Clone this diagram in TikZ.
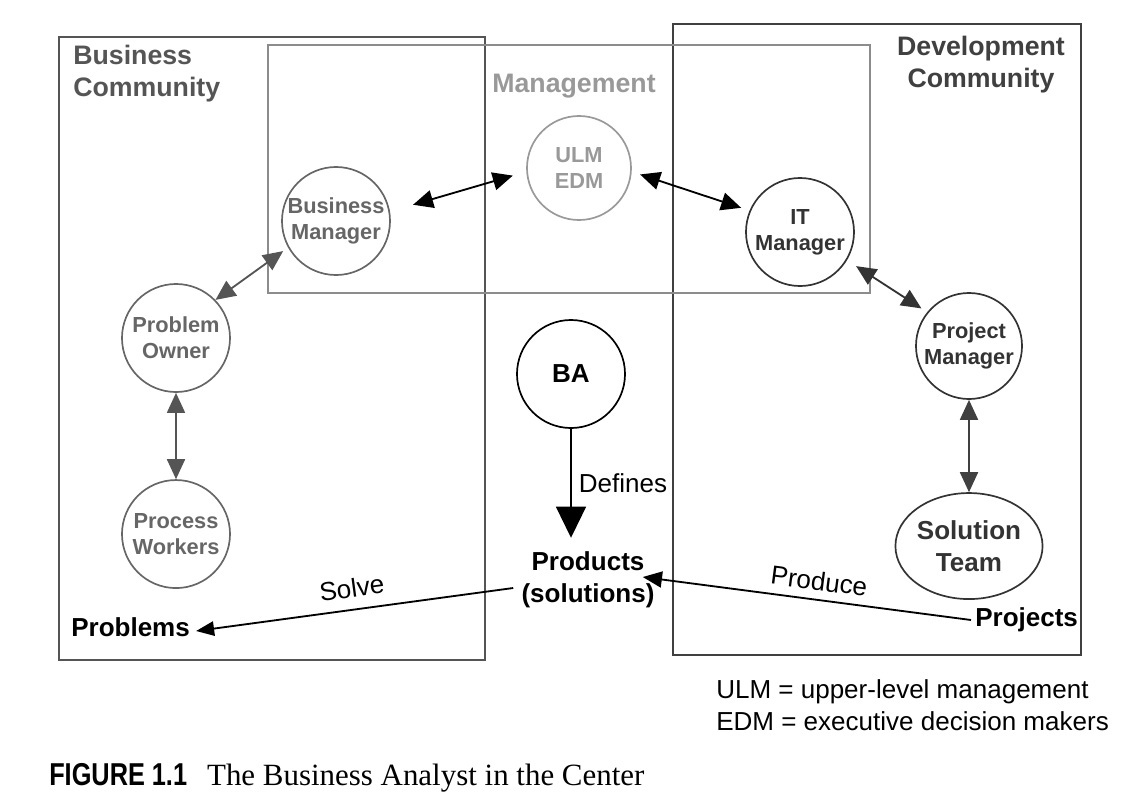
\documentclass[tikz,border=0pt]{standalone}
\usepackage{xcolor}
\usepackage{fontspec}
\setmainfont{Liberation Sans}
\newfontfamily\capserif{Liberation Serif}
\usepackage{tikz}
\usetikzlibrary{positioning,arrows.meta,shapes.geometric,calc}

\definecolor{boxgray}{HTML}{555555}
\definecolor{mgmtgray}{HTML}{8C8C8C}
\definecolor{devgray}{HTML}{404040}
\definecolor{txtgray}{HTML}{666666}
\definecolor{ulmgray}{HTML}{999999}
\definecolor{darktxt}{HTML}{333333}

\begin{document}
\begin{tikzpicture}[
  x=0.025cm, y=-0.025cm,
  font=\bfseries\fontsize{15.5}{18.5}\selectfont,
  >={Triangle[length=0.5cm, width=0.45cm]},
  role/.style={draw, circle, line width=1.2pt, minimum size=2.7cm, inner sep=0pt,
               align=center},
  group/.style={line width=1.4pt},
  head/.style={font=\bfseries\fontsize{19}{22.8}\selectfont, inner sep=0pt},
  item/.style={font=\bfseries\fontsize{18.5}{22.5}\selectfont, align=center, inner sep=0pt},
  arr/.style={<->, line width=1.3pt},
]
\useasboundingbox (0,0) rectangle (1140,797);

% the three communities
\draw[group, boxgray] (59,37) rectangle (485,660);
\draw[group, devgray] (673,24) rectangle (1081,655);
\draw[group, mgmtgray] (268,45) rectangle (870,293);

\node[head, boxgray, anchor=north west, align=left] (bc) at (73,45) {Business\\Community};
\node[head, ulmgray] (mg) at (574,86) {Management};
\node[head, devgray, align=center] (dc) at (981,65) {Development\\Community};

% people
\node[role, ulmgray, text=ulmgray, minimum size=2.6cm] (ulm) at (579,168) {ULM\\EDM};
\node[role, draw=txtgray, text=txtgray] (bm) at (336,221) {Business\\Manager};
\node[role, draw=darktxt, text=darktxt] (itm) at (800,232) {IT\\Manager};
\node[role, draw=txtgray, text=txtgray] (po) at (176,338) {Problem\\Owner};
\node[role, draw=txtgray, text=txtgray, on grid, below=4.9cm of po] (pw) {Process\\Workers};
\node[role, draw=darktxt, text=darktxt, minimum size=2.65cm] (pm) at (969,346) {Project\\Manager};
\node[role, ellipse, draw=darktxt, text=darktxt, minimum width=3.15cm, minimum height=2.65cm,
      font=\bfseries\fontsize{18.5}{22.5}\selectfont, on grid, below=5cm of pm] (st) {Solution\\Team};
\node[role, black, font=\bfseries\fontsize{18.5}{22.5}\selectfont] (ba) at (571,374) {BA};

\node[item] (prod) at (588,580) {Products\\(solutions)};
\node[item, anchor=west] (probl) at (71,627) {Problems};
\node[item, anchor=west] (proj) at (975,620) {Projects};

% legend and caption
\node[anchor=west, align=left, inner sep=0pt, font=\fontsize{18.5}{22.5}\selectfont] (lg) at (716,705)
  {ULM = upper-level management\\EDM = executive decision makers};
\node[anchor=west, inner sep=0pt] (cap) at (49,778)
  {\scalebox{0.8}[1]{\bfseries\fontsize{22.5}{26}\selectfont FIGURE 1.1}\hspace{0.5cm}%
   {\capserif\mdseries\fontsize{22}{26}\selectfont The Business Analyst in the Center}};

% links
\draw[arr, black, shorten <=0.6cm, shorten >=0.35cm] (bm.10) -- (ulm.184);
\draw[arr, black, shorten <=0.22cm, shorten >=0.22cm] (ulm.-4) -- (itm.157);
\draw[arr, darktxt, shorten <=0.27cm, shorten >=0.17cm] (itm.-31) -- (pm.141);
\draw[arr, boxgray, shorten <=0.15cm] (bm.-151) -- (po.44);
\draw[arr, boxgray] (po) -- (pw);
\draw[arr, devgray] (pm) -- (st);

\draw[->, line width=1.3pt, >={Triangle[length=0.78cm, width=0.75cm]}]
  (ba) -- ($(ba |- prod.north)+(0,-14)$)
  node[midway, right, font=\fontsize{18.5}{22.5}\selectfont, inner sep=5pt] {Defines};
\draw[->, line width=1.3pt, >={Triangle[length=0.48cm, width=0.4cm]}]
  ([shift={(-4,0)}]proj.west) -- ([shift={(-12,-3)}]prod.east)
  node[pos=0.47, above, sloped, font=\fontsize{18.5}{22.5}\selectfont, inner sep=6pt] {Produce};
\draw[->, line width=1.3pt, >={Triangle[length=0.45cm, width=0.36cm]}]
  ([shift={(-8,8)}]prod.west) -- ([shift={(6,4)}]probl.east)
  node[midway, above, sloped, font=\fontsize{18.5}{22.5}\selectfont, inner sep=8pt] {Solve};
\end{tikzpicture}
\end{document}
